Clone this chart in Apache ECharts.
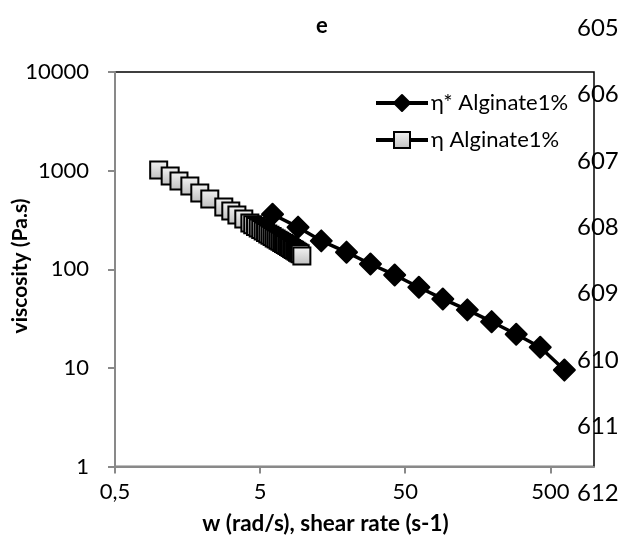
<!DOCTYPE html>
<html>
<head>
<meta charset="utf-8">
<script src="https://cdn.jsdelivr.net/npm/echarts@6/dist/echarts.min.js"></script>
<style>
  html, body { margin: 0; padding: 0; background: #fff; }
  #chart { width: 624px; height: 541px; }
</style>
</head>
<body>
<div id="chart"></div>
<script>
// Oscillatory sweep: angular frequency w (rad/s) and complex viscosity eta* (Pa.s)
const omega = [6.09, 9.13, 13.2, 19.7, 28.8, 42.3, 62.1, 90.8, 134, 197, 291, 426, 625];
const etaStar = [361, 267, 194, 149, 113, 87.5, 65.7, 50, 38.7, 29.4, 21.9, 16.2, 9.5];

// Steady shear sweep: shear rate (s-1) and viscosity eta (Pa.s)
const shearRate = [1.0, 1.2, 1.38, 1.64, 1.92, 2.25, 2.81, 3.14, 3.46, 3.86, 4.25,
  4.45, 4.65, 4.85, 5.05, 5.25, 5.45, 5.65, 5.85, 6.05, 6.25, 6.45, 6.65, 6.85,
  7.05, 7.25, 7.45, 7.65, 7.85, 8.05, 8.25, 8.45, 8.65, 8.85, 9.05, 9.25, 9.45, 9.7];
const eta = [1016, 884, 787, 700, 594, 517, 428, 390, 355, 324, 295,
  283, 272, 262, 253, 244, 236, 228, 221, 215, 208, 203, 197, 192,
  187, 182, 178, 174, 170, 166, 162, 159, 156, 152, 149, 146.5, 144, 136];

// Axis ticks
const xTicks = [0.5, 5, 50, 500];
const xMin = 0.5, xMax = 1000;
const yTicks = [1, 10, 100, 1000, 10000];

const seriesNames = ['\u03b7* Alginate1%', '\u03b7 Alginate1%'];
const yTitle = 'viscosity (Pa.s)';
const lineNumbers = ['605', '606', '607', '608', '609', '610', '611', '612'];

// Both axes are logarithmic (base 10); x decades start at 0.5
const lx = v => Math.log10(v / xMin);
const ly = v => Math.log10(v);
const pairs = (xs, ys) => xs.map((x, i) => [lx(x), ly(ys[i])]);

const FONT = 'Lato, "Liberation Sans", sans-serif';
const chart = echarts.init(document.getElementById('chart'), null, { renderer: 'canvas' });

const lineNumberTexts = lineNumbers.map((t, i) => ({
  type: 'text',
  left: 577,
  top: 16 + i * 66.4,
  z: 100,
  style: { text: t, fill: '#000', font: '24px ' + FONT }
}));

// Vertical axis title, rotated to read bottom-to-top
const yTitleText = {
  type: 'text',
  x: 20,
  y: 266,
  rotation: Math.PI / 2,
  z: 100,
  style: {
    text: yTitle, fill: '#000', font: 'bold 21px ' + FONT,
    textAlign: 'center', textVerticalAlign: 'middle'
  }
};

chart.setOption({
  animation: false,
  backgroundColor: '#fff',
  title: {
    text: 'e',
    left: 311,
    top: 10,
    textStyle: { fontFamily: FONT, fontSize: 22, fontWeight: 'bold', color: '#000' }
  },
  grid: {
    left: 115, top: 72, right: 30, bottom: 74.5,
    outerBoundsMode: 'none',
    containLabel: false,
    show: true, borderColor: '#000', borderWidth: 1.5, backgroundColor: 'transparent'
  },
  legend: {
    orient: 'vertical',
    left: 369,
    top: 87,
    itemWidth: 52,
    itemHeight: 20,
    itemGap: 15,
    lineStyle: { width: 4 },
    textStyle: { fontFamily: FONT, fontSize: 22, color: '#000', padding: [0, 0, 0, -2] },
    data: seriesNames
  },
  xAxis: {
    type: 'value',
    min: 0,
    max: lx(xMax),
    interval: 1,
    name: 'w (rad/s), shear rate (s-1)',
    nameLocation: 'middle',
    nameGap: 46,
    nameTextStyle: { fontFamily: FONT, fontSize: 22.5, fontWeight: 'bold', color: '#000',
      padding: [0, 58, 0, 0] },
    axisLine: { lineStyle: { color: '#898989', width: 2 } },
    axisTick: { show: true, length: 7, inside: false, lineStyle: { color: '#898989', width: 2 },
      customValues: xTicks.map(lx) },
    axisLabel: {
      margin: 14,
      fontFamily: FONT, fontSize: 22, color: '#000',
      customValues: xTicks.map(lx),
      formatter: v => String(+(xMin * Math.pow(10, v)).toPrecision(3)).replace('.', ',')
    },
    splitLine: { show: false }
  },
  yAxis: {
    type: 'value',
    min: ly(yTicks[0]),
    max: ly(yTicks[yTicks.length - 1]),
    interval: 1,
    axisLine: { show: true, lineStyle: { color: '#898989', width: 2 } },
    axisTick: { show: true, length: 7, inside: false, lineStyle: { color: '#898989', width: 2 } },
    axisLabel: {
      margin: 26,
      fontFamily: FONT, fontSize: 22, color: '#000',
      formatter: v => String(Math.round(Math.pow(10, v)))
    },
    splitLine: { show: false }
  },
  series: [
    {
      name: seriesNames[0],
      type: 'line',
      data: pairs(omega, etaStar),
      symbol: 'diamond',
      symbolSize: 21,
      itemStyle: { color: '#000', borderColor: '#000', borderWidth: 2, borderJoin: 'round' },
      lineStyle: { color: '#000', width: 3.5 },
      z: 2
    },
    {
      name: seriesNames[1],
      type: 'line',
      data: pairs(shearRate, eta),
      symbol: 'rect',
      symbolSize: 17,
      itemStyle: {
        color: new echarts.graphic.LinearGradient(0, 0, 0, 1, [
          { offset: 0, color: '#f4f4f4' },
          { offset: 1, color: '#bebebe' }
        ]),
        borderColor: '#000',
        borderWidth: 2
      },
      lineStyle: { color: '#000', width: 3.5 },
      z: 3
    }
  ],
  graphic: lineNumberTexts.concat([yTitleText])
});
</script>
</body>
</html>
